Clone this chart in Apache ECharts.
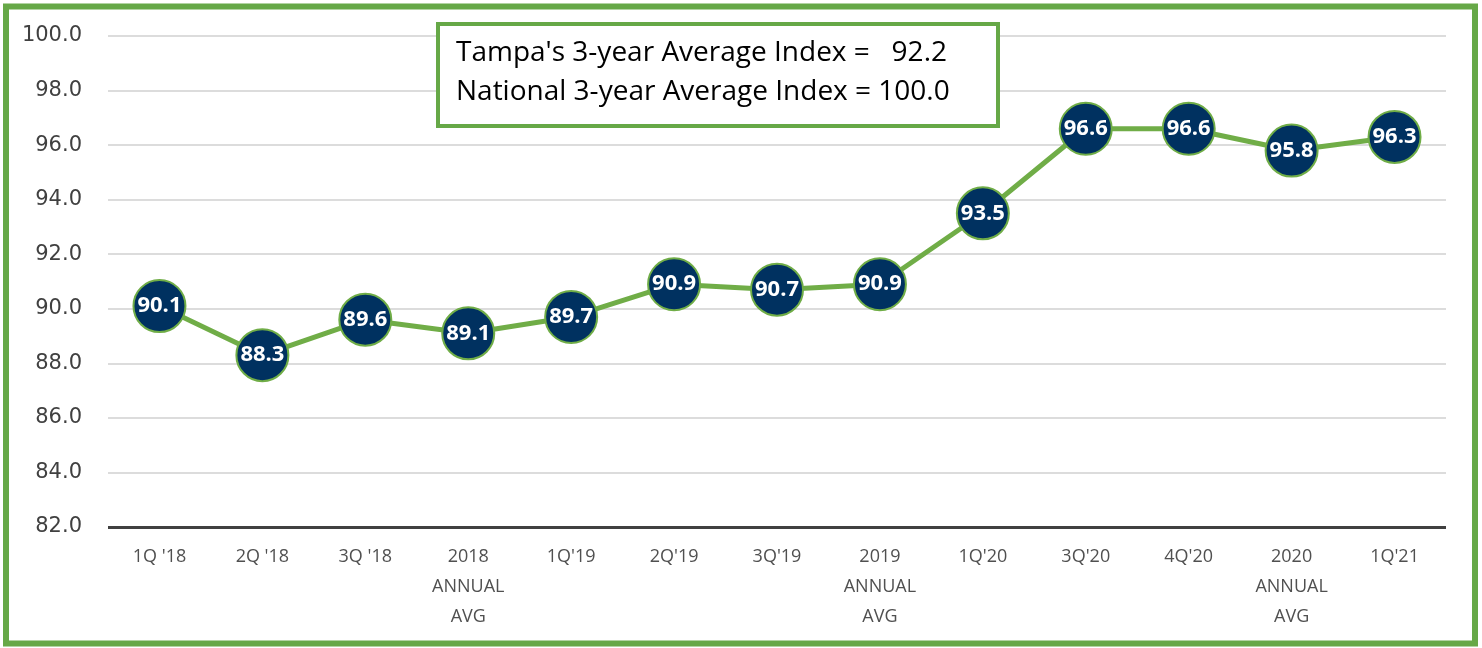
<!DOCTYPE html>
<html><head><meta charset="utf-8">
<script src="https://cdn.jsdelivr.net/npm/echarts@6/dist/echarts.min.js"></script>
<style>html,body{margin:0;padding:0;background:#fff}#c{width:1482px;height:648px}</style>
</head><body><div id="c"></div>
<script>
const categories = ["1Q '18","2Q '18","3Q '18","2018\nANNUAL\nAVG","1Q'19","2Q'19","3Q'19","2019\nANNUAL\nAVG","1Q'20","3Q'20","4Q'20","2020\nANNUAL\nAVG","1Q'21"];
const tampaIndex = [90.1,88.3,89.6,89.1,89.7,90.9,90.7,90.9,93.5,96.6,96.6,95.8,96.3];
const boxLines = ["Tampa's 3-year Average Index =   92.2","National 3-year Average Index = 100.0"];
const yMin = 82, yMax = 100, yStep = 2;

const GREEN = '#66A847';
const chart = echarts.init(document.getElementById('c'), null, {renderer:'canvas'});
chart.setOption({
  animation:false,
  backgroundColor:'#fff',
  grid:{left:108,right:36,top:36,bottom:121},
  xAxis:{type:'category',data:categories,boundaryGap:true,
    axisLine:{show:false},axisTick:{show:false},
    axisLabel:{interval:0,margin:15,color:'#505050',fontFamily:'Open Sans',fontSize:18,lineHeight:30}},
  yAxis:{type:'value',min:yMin,max:yMax,interval:yStep,
    axisLine:{show:false},axisTick:{show:false},
    axisLabel:{margin:26,color:'#404040',fontFamily:'DejaVu Sans',fontSize:21,formatter:v=>v.toFixed(1)},
    splitLine:{lineStyle:{color:'#D0D0D0',width:1.5}}},
  series:[
    {type:'line',data:tampaIndex,symbol:'circle',symbolSize:52,
     lineStyle:{color:'#70AD47',width:5},
     itemStyle:{color:'#003160',borderColor:'#70AD47',borderWidth:2},
     label:{show:true,position:'inside',color:'#fff',fontFamily:'Open Sans',fontWeight:'bold',fontSize:22,formatter:p=>p.value.toFixed(1)},
     z:3},
    {type:'line',data:[],markLine:{silent:true,symbol:'none',label:{show:false},
      lineStyle:{color:'#404040',width:3,type:'solid'},data:[{yAxis:yMin}]}}
  ],
  graphic:[
    {type:'rect',z:0,shape:{x:6,y:6.5,width:1469,height:637},style:{fill:'none',stroke:GREEN,lineWidth:6}},
    {type:'rect',z:100,zlevel:1,shape:{x:438,y:24,width:560,height:102},style:{fill:'#fff',stroke:GREEN,lineWidth:4}},
    {type:'text',z:101,zlevel:1,x:456,y:39,style:{text:boxLines[0],font:'28px "Open Sans"',fill:'#000'}},
    {type:'text',z:101,zlevel:1,x:456,y:78,style:{text:boxLines[1],font:'28px "Open Sans"',fill:'#000'}}
  ]
});
</script></body></html>
